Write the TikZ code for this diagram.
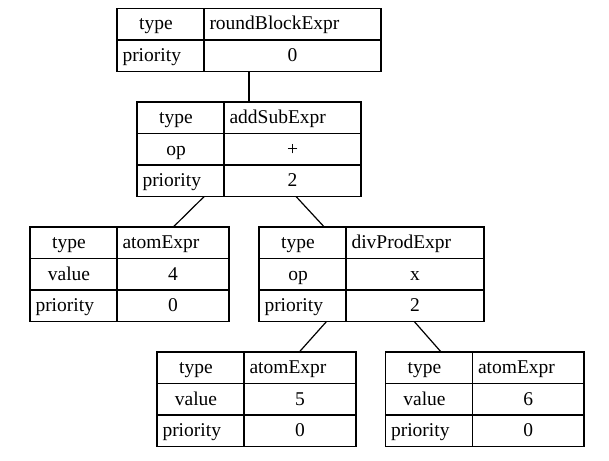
\documentclass[tikz,border=0pt]{standalone}
\usepackage{fontspec}
\setmainfont{Liberation Serif}
\usetikzlibrary{calc}

\tikzset{
  cell/.style={draw, line width=1.6pt, inner sep=0pt, outer sep=0pt,
    minimum height=31.5pt, text height=14.5pt, text depth=3pt,
    anchor=north west, font=\fontsize{19.5}{23}\selectfont},
  keycell/.style={cell, minimum width=87pt, execute at end node={\hspace{9pt}}},
  keyleft/.style={cell, text width=76pt, inner xsep=5.5pt, align=left},
  valcell/.style={cell, minimum width=#1},
  valleft/.style={cell, text width=#1, inner xsep=5.5pt, align=left},
  edge/.style={line width=1.2pt}
}

\begin{document}
\begin{tikzpicture}[x=1pt,y=1pt,yscale=-1,xscale=1]
\useasboundingbox (0,0) rectangle (609,460);

%Table: roundBlockExpr
\node[keycell] (rb-k1) at (117,8.5) {type};
\node[valleft=166pt] (rb-v1) at (204,8.5) {roundBlockExpr};
\node[keyleft] (rb-k2) at (117,40) {priority};
\node[valcell=177pt] (rb-v2) at (204,40) {0};

%Table: addSubExpr
\node[keycell] (as-k1) at (137,102) {type};
\node[valleft=126pt] (as-v1) at (224,102) {addSubExpr};
\node[keycell] (as-k2) at (137,133.5) {op};
\node[valcell=137pt] (as-v2) at (224,133.5) {+};
\node[keyleft] (as-k3) at (137,165) {priority};
\node[valcell=137pt] (as-v3) at (224,165) {2};

%Table: atomExpr 4
\node[keycell] (a4-k1) at (30,227) {type};
\node[valleft=101pt] (a4-v1) at (117,227) {atomExpr};
\node[keycell] (a4-k2) at (30,258.5) {value};
\node[valcell=112pt] (a4-v2) at (117,258.5) {4};
\node[keyleft] (a4-k3) at (30,290) {priority};
\node[valcell=112pt] (a4-v3) at (117,290) {0};

%Table: divProdExpr
\node[keycell] (dp-k1) at (259,227) {type};
\node[valleft=127pt] (dp-v1) at (346,227) {divProdExpr};
\node[keycell] (dp-k2) at (259,258.5) {op};
\node[valcell=138pt] (dp-v2) at (346,258.5) {x};
\node[keyleft] (dp-k3) at (259,290) {priority};
\node[valcell=138pt] (dp-v3) at (346,290) {2};

%Table: atomExpr 5
\node[keycell] (a5-k1) at (157,352) {type};
\node[valleft=101pt] (a5-v1) at (244,352) {atomExpr};
\node[keycell] (a5-k2) at (157,383.5) {value};
\node[valcell=112pt] (a5-v2) at (244,383.5) {5};
\node[keyleft] (a5-k3) at (157,415) {priority};
\node[valcell=112pt] (a5-v3) at (244,415) {0};

%Table: atomExpr 6
\node[keycell] (a6-k1) at (385.5,352) {type};
\node[valleft=100.5pt] (a6-v1) at (472.5,352) {atomExpr};
\node[keycell] (a6-k2) at (385.5,383.5) {value};
\node[valcell=111.5pt] (a6-v2) at (472.5,383.5) {6};
\node[keyleft] (a6-k3) at (385.5,415) {priority};
\node[valcell=111.5pt] (a6-v3) at (472.5,415) {0};

%Straight Lines
\draw[edge] ($(rb-k2.south west)!0.5!(rb-v2.south east)$) -- ($(as-k1.north west)!0.5!(as-v1.north east)$);
\draw[edge] ($(as-k3.south west)!0.3!(as-v3.south east)$) -- ($(a4-k1.north west)!0.72!(a4-v1.north east)$);
\draw[edge] ($(as-k3.south west)!0.71!(as-v3.south east)$) -- ($(dp-k1.north west)!0.29!(dp-v1.north east)$);
\draw[edge] ($(dp-k3.south west)!0.3!(dp-v3.south east)$) -- ($(a5-k1.north west)!0.715!(a5-v1.north east)$);
\draw[edge] ($(dp-k3.south west)!0.69!(dp-v3.south east)$) -- ($(a6-k1.north west)!0.28!(a6-v1.north east)$);

\end{tikzpicture}
\end{document}
